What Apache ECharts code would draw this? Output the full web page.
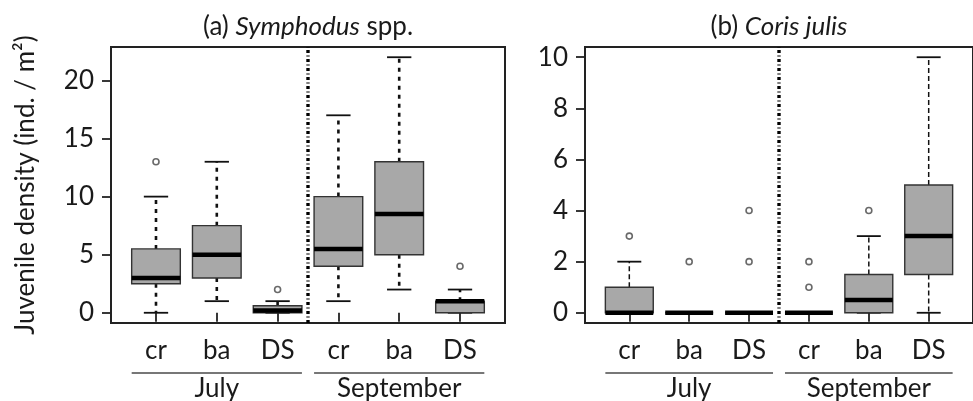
<!DOCTYPE html>
<html>
<head>
<meta charset="utf-8">
<script src="https://cdn.jsdelivr.net/npm/echarts@6/dist/echarts.min.js"></script>
<style>
html,body{margin:0;padding:0;background:#fff;}
#chart{width:973px;height:401px;}
</style>
</head>
<body>
<div id="chart"></div>
<script>
// ---- data ----
const categories = ['cr', 'ba', 'DS', 'cr', 'ba', 'DS'];
const months = ['July', 'September'];
// each row: [lower whisker, Q1, median, Q3, upper whisker]
const symphodusStats = [
  [0, 2.5, 3, 5.5, 10],
  [1, 3, 5, 7.5, 13],
  [0, 0, 0.2, 0.6, 1],
  [1, 4, 5.5, 10, 17],
  [2, 5, 8.5, 13, 22],
  [0, 0, 1, 1, 2]
];
// [category position (1-6), value]
const symphodusOutliers = [[1, 13], [3, 2], [6, 4]];
const corisStats = [
  [0, 0, 0, 1, 2],
  [0, 0, 0, 0, 0],
  [0, 0, 0, 0, 0],
  [0, 0, 0, 0, 0],
  [0, 0, 0.5, 1.5, 3],
  [0, 1.5, 3, 5, 10]
];
const corisOutliers = [[1, 3], [2, 2], [3, 2], [3, 4], [4, 1], [4, 2], [5, 4]];
const yTicksA = [0, 5, 10, 15, 20];
const yTicksB = [0, 2, 4, 6, 8, 10];
const xPositions = [1, 2, 3, 4, 5, 6];

// ---- rendering ----
const FONT = 'Lato, "Noto Sans", sans-serif';
const FS = 26;
const TXT = '#1a1a1a';
const chart = echarts.init(document.getElementById('chart'), null, {renderer: 'canvas'});

function boxData(stats) {
  return stats.map((s, i) => [xPositions[i]].concat(s));
}

function boxRenderer(whiskerWidth, whiskerDash) {
  return function (params, api) {
    const x = api.value(0);
    const vals = [1, 2, 3, 4, 5].map(k => api.value(k));
    const ys = vals.map(v => api.coord([x, v])[1]);
    const cx = api.coord([x, vals[2]])[0];
    const half = api.size([0.8, 0])[0] / 2;
    const cap = half / 2;
    const [yMin, yQ1, yMd, yQ3, yMax] = ys;
    const whisk = {stroke: '#111', lineWidth: whiskerWidth, lineDash: whiskerDash};
    return {
      type: 'group',
      children: [
        {type: 'line', shape: {x1: cx, y1: yQ3, x2: cx, y2: yMax}, style: whisk},
        {type: 'line', shape: {x1: cx, y1: yQ1, x2: cx, y2: yMin}, style: whisk},
        {type: 'line', shape: {x1: cx - cap, y1: yMax, x2: cx + cap, y2: yMax}, style: {stroke: '#111', lineWidth: 1.8}},
        {type: 'line', shape: {x1: cx - cap, y1: yMin, x2: cx + cap, y2: yMin}, style: {stroke: '#111', lineWidth: 1.8}},
        {type: 'rect', shape: {x: cx - half, y: yQ3, width: half * 2, height: yQ1 - yQ3},
          style: {fill: '#a8a8a8', stroke: '#333', lineWidth: 1.4}},
        {type: 'line', shape: {x1: cx - half, y1: yMd, x2: cx + half, y2: yMd}, style: {stroke: '#000', lineWidth: 4.5}}
      ]
    };
  };
}

function groupRenderer() {
  return function (params, api) {
    const i = api.value(0);
    const cs = params.coordSys;
    const x1 = api.coord([3 * i + 0.6, 0])[0];
    const x2 = api.coord([3 * i + 3.4, 0])[0];
    const y = cs.y + cs.height + 50;
    return {
      type: 'group',
      children: [
        {type: 'line', shape: {x1: x1, y1: y, x2: x2, y2: y}, style: {stroke: '#777', lineWidth: 1.8}},
        {type: 'text', style: {text: months[i], x: (x1 + x2) / 2, y: y + 16, align: 'center', verticalAlign: 'middle',
          fontSize: FS, fontFamily: FONT, fill: TXT}}
      ]
    };
  };
}

function xAxisFor(gi) {
  return {
    type: 'value', gridIndex: gi, min: 0.26, max: 6.74,
    axisLine: {show: false},
    splitLine: {show: false},
    axisTick: {show: true, length: 9, customValues: xPositions, lineStyle: {color: '#222', width: 1.8}},
    axisLabel: {customValues: xPositions, margin: 15, fontSize: FS, fontFamily: FONT, color: TXT,
      formatter: v => categories[Math.round(v) - 1]}
  };
}

function yAxisFor(gi, lo, hi, ticks, extra) {
  return Object.assign({
    type: 'value', gridIndex: gi, min: lo, max: hi,
    axisLine: {show: false},
    splitLine: {show: false},
    axisTick: {show: true, length: 9, customValues: ticks, lineStyle: {color: '#222', width: 1.8}},
    axisLabel: {customValues: ticks, margin: 17, fontSize: FS, fontFamily: FONT, color: TXT}
  }, extra || {});
}

const yRangeA = [-0.88, 22.88];
const yRangeB = [-0.4, 10.4];

const option = {
  animation: false,
  backgroundColor: '#fff',
  grid: [
    {left: 111, top: 47, width: 394, height: 276, show: true, borderColor: '#222', borderWidth: 2, backgroundColor: 'transparent'},
    {left: 585, top: 47, width: 395, height: 276, show: true, borderColor: '#222', borderWidth: 2, backgroundColor: 'transparent'}
  ],
  xAxis: [xAxisFor(0), xAxisFor(1)],
  yAxis: [
    yAxisFor(0, yRangeA[0], yRangeA[1], yTicksA, {
      name: 'Juvenile density (ind. / m²)', nameLocation: 'middle', nameGap: 72, nameRotate: 90,
      nameTextStyle: {fontSize: FS, fontFamily: FONT, color: TXT}
    }),
    yAxisFor(1, yRangeB[0], yRangeB[1], yTicksB)
  ],
  series: [
    {type: 'custom', xAxisIndex: 0, yAxisIndex: 0, renderItem: boxRenderer(2.6, [4, 5]), data: boxData(symphodusStats), z: 3},
    {type: 'custom', xAxisIndex: 1, yAxisIndex: 1, renderItem: boxRenderer(1.5, [5, 3]), data: boxData(corisStats), z: 3},
    {type: 'scatter', xAxisIndex: 0, yAxisIndex: 0, data: symphodusOutliers, symbol: 'circle', symbolSize: 6,
      itemStyle: {color: '#fff', borderColor: '#444', borderWidth: 1.6}, z: 4},
    {type: 'scatter', xAxisIndex: 1, yAxisIndex: 1, data: corisOutliers, symbol: 'circle', symbolSize: 6,
      itemStyle: {color: '#fff', borderColor: '#444', borderWidth: 1.6}, z: 4},
    {type: 'line', xAxisIndex: 0, yAxisIndex: 0, data: [[3.5, yRangeA[0]], [3.5, yRangeA[1]]], symbol: 'none',
      lineStyle: {color: '#000', width: 3.4, type: [3, 2.5, 1, 2.5]}, z: 5},
    {type: 'line', xAxisIndex: 1, yAxisIndex: 1, data: [[3.5, yRangeB[0]], [3.5, yRangeB[1]]], symbol: 'none',
      lineStyle: {color: '#000', width: 3.4, type: [3, 2.5, 1, 2.5]}, z: 5},
    {type: 'custom', xAxisIndex: 0, yAxisIndex: 0, renderItem: groupRenderer(), data: [[0], [1]], clip: false, silent: true},
    {type: 'custom', xAxisIndex: 1, yAxisIndex: 1, renderItem: groupRenderer(), data: [[0], [1]], clip: false, silent: true}
  ]
};
chart.setOption(option);

// panel titles centred over each plot, positioned via the axes
const cA = chart.convertToPixel({xAxisIndex: 0}, 3.5);
const cB = chart.convertToPixel({xAxisIndex: 1}, 3.5);
const titleRich = {i: {fontStyle: 'italic', fontSize: FS, fontFamily: FONT, fill: TXT, color: TXT}};
chart.setOption({
  graphic: [
    {type: 'text', x: cA, y: 27, silent: true,
      style: {text: '(a) {i|Symphodus} spp.', align: 'center', verticalAlign: 'middle', fontSize: FS, fontFamily: FONT, fill: TXT, rich: titleRich}},
    {type: 'text', x: cB, y: 27, silent: true,
      style: {text: '(b) {i|Coris julis}', align: 'center', verticalAlign: 'middle', fontSize: FS, fontFamily: FONT, fill: TXT, rich: titleRich}}
  ]
});
</script>
</body>
</html>
